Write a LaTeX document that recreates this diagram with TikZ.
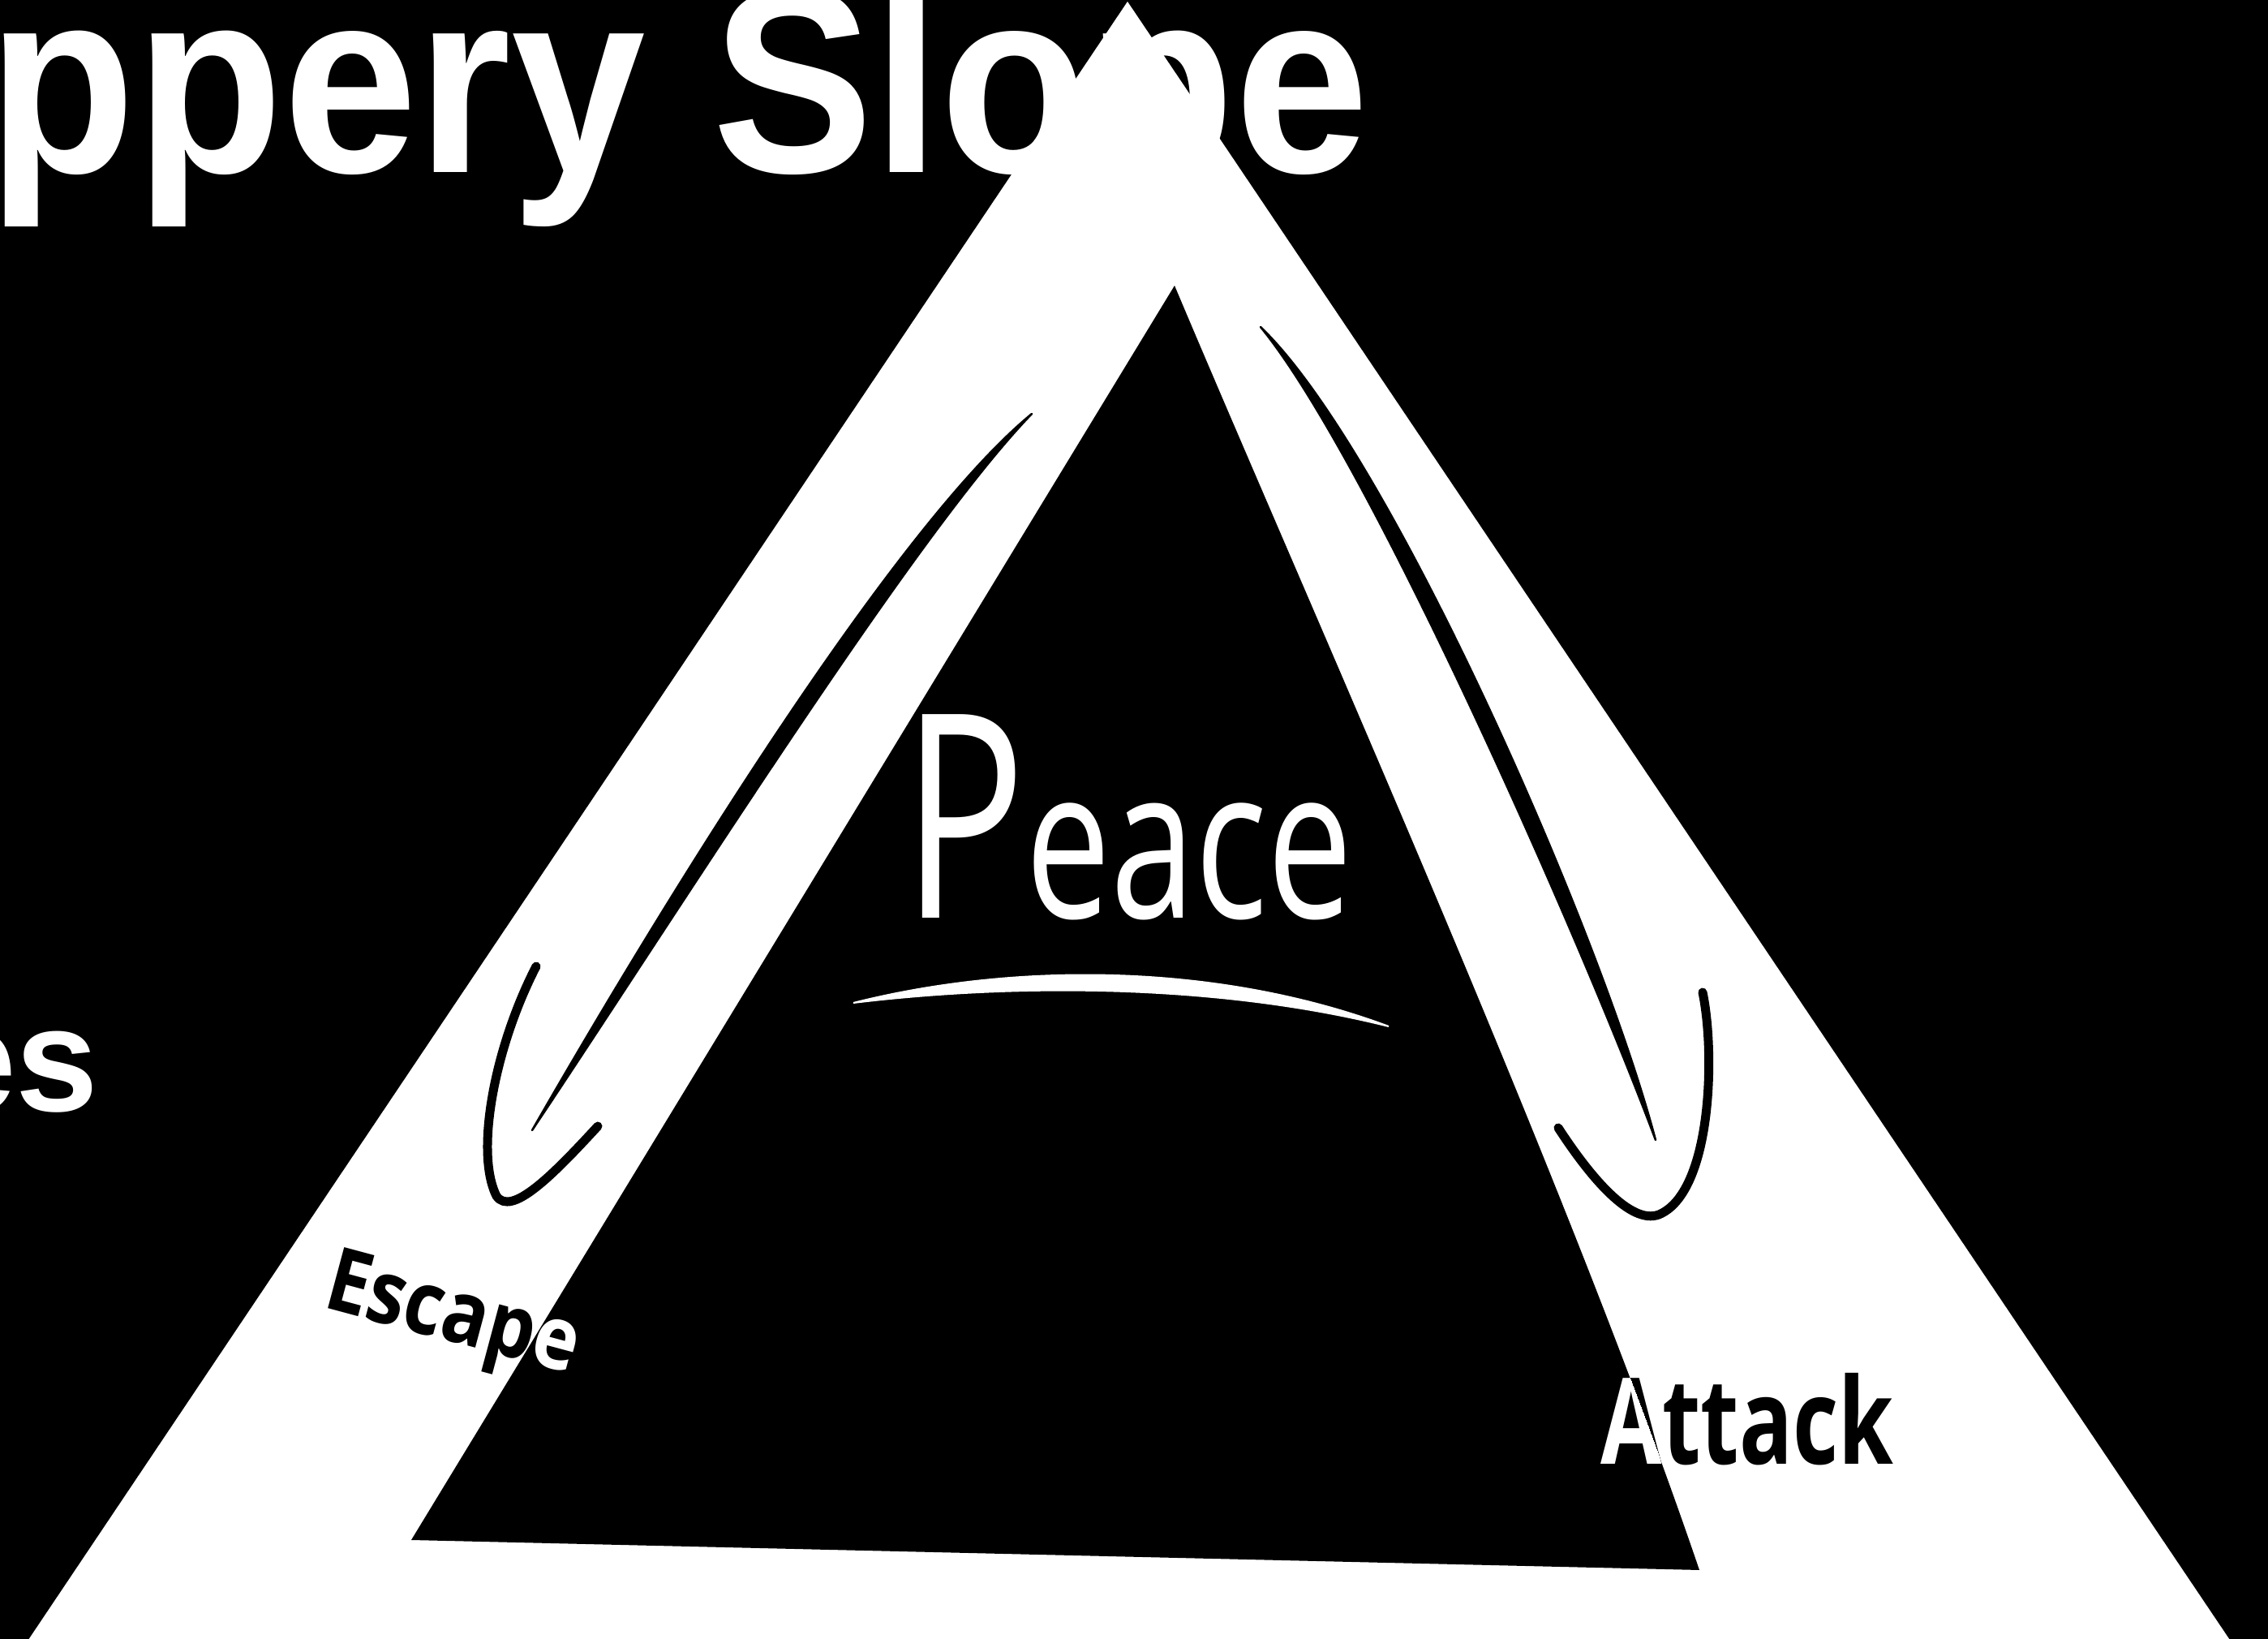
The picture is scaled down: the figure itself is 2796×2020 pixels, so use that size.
\documentclass[tikz,border=0pt]{standalone}
\usepackage{fontspec}
\setmainfont{Liberation Sans}
\newfontfamily\handfont{Open Sans}
\usepackage{graphicx}
\usepackage{tikz}
\usetikzlibrary{calc}

\begin{document}
\begin{tikzpicture}[x=0.1mm, y=-0.1mm,
      title/.style={text=white, inner sep=0pt,
                    font=\fontsize{92}{100}\selectfont\bfseries},
      hand/.style={inner sep=0pt, font=\handfont},
      shaft/.style={fill=black, draw=black, line width=0.25mm, line join=round},
      head/.style={draw=black, line width=1.1mm, line cap=round}]

    \useasboundingbox (0,0) rectangle (2796,2020);
    \clip (0,0) rectangle (2796,2020);
    \fill[black] (0,0) rectangle (2796,2020);

    % heading text, cut by the page edge
    \node[title, xscale=0.92, anchor=base west] (ttl) at (-15,213) {ppery Slope};
    \node[title, font=\fontsize{52}{58}\selectfont\bfseries, anchor=base east]
      (sub) at (122,1370) {es};

    % the slope: white outer triangle, black inner one
    \coordinate (peak) at (1390,2);
    \coordinate (obl)  at (-18,2100);
    \coordinate (obr)  at (2802,2100);
    \fill[white] (peak) -- (obl) -- (obr) -- cycle;

    \coordinate (top) at (1448,352);
    \coordinate (bl)  at (507,1898);
    \coordinate (br)  at (2095,1935);
    \fill[black] (top) -- (bl) -- (br) .. controls (1930,1450) and (1620,760) .. (top) -- cycle;

    \node[hand, text=white, font=\handfont\fontsize{74}{80}\selectfont, xscale=0.72,
          anchor=base] (peace) at (1390,1132)
      {{\fontsize{100}{100}\selectfont P}eace};
    \fill[white, draw=white, line width=0.2mm]
      (1052,1236) .. controls (1250,1186) and (1500,1186) .. (1712,1265)
      .. controls (1500,1212) and (1250,1212) .. (1052,1236) -- cycle;

    % left slide down to Escape
    \coordinate (esc top) at (1272,510);
    \coordinate (esc tip) at (656,1393);
    \fill[shaft] (esc top) .. controls (1130,657) and (860,1087) .. (esc tip)
      .. controls (840,1073) and (1110,643) .. (esc top) -- cycle;
    \draw[head] (661,1191) .. controls (610,1290) and (585,1420) .. (612,1474)
      .. controls (630,1500) and (680,1450) .. (737,1388);

    % right slide down to Attack
    \coordinate (att top) at (1554,403);
    \coordinate (att tip) at (2041,1405);
    \fill[shaft] (att top) .. controls (1712,554) and (1972,1144) .. (att tip)
      .. controls (1948,1156) and (1688,566) .. (att top) -- cycle;
    \draw[head] (1921,1390) .. controls (1960,1450) and (2010,1510) .. (2045,1497)
      .. controls (2110,1470) and (2115,1300) .. (2099,1223);

    \node[hand, text=black, font=\handfont\bfseries\fontsize{31}{34}\selectfont,
          rotate=-15, anchor=base] (esc) at (550,1652) {\scalebox{0.86}[1]{Escape}};
    \node[hand, text=black, font=\handfont\bfseries\fontsize{42}{46}\selectfont,
          xscale=0.74, anchor=base] (att) at (2154,1805) {Attack};

    % the labels turn white where they run onto the black triangle
    \begin{scope}
      \clip (top) -- (bl) -- (br) .. controls (1930,1450) and (1620,760) .. (top) -- cycle;
      \node[hand, text=white, font=\handfont\bfseries\fontsize{31}{34}\selectfont,
            rotate=-15, anchor=base] (esc w) at (550,1652) {\scalebox{0.86}[1]{Escape}};
      \node[hand, text=white, font=\handfont\bfseries\fontsize{42}{46}\selectfont,
            xscale=0.74, anchor=base] (att w) at (2154,1805) {Attack};
    \end{scope}
  \end{tikzpicture}
\end{document}
